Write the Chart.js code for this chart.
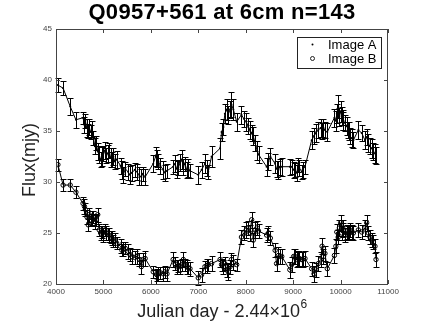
<!DOCTYPE html>
<html>
<head>
<meta charset="utf-8">
<script src="https://cdn.jsdelivr.net/npm/chart.js@4.4.0/dist/chart.umd.min.js"></script>
<style>
  html, body { margin: 0; padding: 0; background: #fff; }
  #wrap { width: 429px; height: 322px; }
</style>
</head>
<body>
<div id="wrap"><canvas id="myChart" width="429" height="322"></canvas></div>
<script>
// observation epochs (JD - 2440000), shared by both images
const days = [
  4040, 4150, 4300, 4420,
  4570, 4600, 4620, 4650, 4680, 4700, 4730, 4760, 4790, 4820, 4850, 4880,
  4910, 4940, 4970, 5000, 5030, 5060, 5090, 5120, 5150, 5180, 5210, 5240, 5280,
  5360, 5390, 5420, 5460, 5520, 5560, 5600, 5660, 5710, 5760, 5800, 5830, 5880,
  6050, 6100, 6130, 6160, 6200, 6260, 6300, 6340,
  6470, 6510, 6545, 6580, 6615, 6650, 6685, 6720, 6755, 6790, 6825,
  7000, 7070, 7140, 7180, 7210, 7280,
  7460, 7490, 7530, 7560, 7600, 7630, 7670, 7700, 7740, 7810,
  7910, 7960, 8010, 8050, 8090, 8125, 8160, 8200, 8240, 8270,
  8440, 8480, 8520, 8620, 8650, 8690, 8720, 8760,
  8930, 8970, 9010, 9040, 9075, 9110, 9130, 9180, 9200, 9250,
  9390, 9440, 9480, 9530, 9580, 9610, 9640, 9670, 9720,
  9870, 9900, 9920, 9950, 9975, 10000, 10025, 10045, 10060, 10090, 10130, 10160, 10185, 10200, 10235, 10270,
  10375, 10445, 10515, 10550, 10585, 10620, 10655, 10690, 10726, 10747
];

const fluxA = [
  39.5, 39.2, 37.4, 36.1,
  36.3, 35.6, 36.0, 35.3, 35.0, 35.4, 34.9, 35.2, 34.3, 33.5, 33.8, 33.0,
  32.7, 32.2, 32.5, 32.8, 33.1, 32.6, 32.8, 33.1, 32.4, 32.2, 32.5, 32.0, 32.2,
  31.6, 31.2, 30.7, 31.3, 31.0, 30.7, 30.9, 31.2, 31.0, 30.6, 30.5, 30.8, 30.5,
  31.8, 32.5, 32.3, 32.0, 31.6, 31.2, 30.9, 31.1,
  31.5, 31.8, 31.3, 31.4, 31.9, 32.2, 31.5, 31.8, 31.2, 31.4, 31.1,
  30.7, 31.2, 31.8, 31.4, 31.0, 32.5,
  33.3, 34.9, 35.4, 36.7, 37.1, 36.6, 37.1, 37.6, 37.1, 35.9,
  36.6, 36.2, 35.9, 35.5, 35.1, 34.8, 34.5, 33.8, 33.1, 32.7,
  31.5, 32.0, 32.5, 31.8, 31.3, 31.2, 31.5, 31.5,
  31.5, 31.5, 31.2, 31.2, 30.9, 31.7, 31.4, 31.0, 31.2, 31.5,
  34.1, 34.5, 34.8, 35.1, 35.3, 35.0, 35.3, 35.1, 34.9,
  36.3, 36.0, 36.7, 37.4, 36.4, 36.9, 36.5, 36.1, 36.0, 35.8, 35.5, 35.1, 35.0, 34.5, 34.3, 34.1,
  35.1, 34.8, 34.1, 34.4, 33.8, 33.5, 33.3, 33.0, 32.8, 32.6
];

const errA = [
  0.7, 0.7, 0.8, 0.8,
  0.6, 0.8, 0.7, 0.9, 0.7, 0.8, 0.7, 0.8, 0.7, 0.8, 0.7, 0.8,
  0.8, 0.7, 0.9, 0.7, 0.8, 0.7, 0.8, 0.7, 0.9, 0.7, 0.8, 0.7, 0.8,
  0.8, 0.9, 0.8, 0.7, 0.8, 0.9, 0.8, 0.7, 0.8, 0.9, 0.8, 0.7, 0.8,
  0.8, 0.9, 0.8, 0.7, 0.8, 0.9, 0.8, 0.7,
  0.7, 0.8, 0.9, 0.7, 0.8, 0.9, 0.8, 0.7, 0.8, 0.9, 0.7,
  0.9, 0.8, 0.9, 0.8, 0.7, 1.0,
  1.0, 0.9, 0.8, 0.9, 1.0, 0.9, 0.8, 1.2, 1.0, 0.9,
  0.9, 0.8, 0.9, 0.8, 0.9, 0.8, 0.9, 0.8, 0.9, 0.8,
  0.9, 0.8, 0.8, 0.9, 0.8, 0.9, 0.8, 0.9,
  0.8, 0.7, 0.8, 0.7, 0.8, 0.7, 0.8, 0.7, 0.8, 0.7,
  0.9, 0.8, 0.9, 0.8, 0.9, 0.8, 0.9, 0.8, 0.9,
  0.9, 1.0, 0.9, 1.1, 0.9, 1.0, 0.9, 1.0, 0.9, 0.8, 0.9, 0.8, 0.9, 0.8, 0.9, 0.8,
  0.9, 0.8, 0.9, 0.8, 0.9, 0.8, 0.9, 0.8, 0.9, 0.8
];

const fluxB = [
  31.7, 29.7, 29.7, 29.0,
  27.9, 27.6, 27.3, 26.6, 25.8, 26.8, 26.3, 26.5, 26.6, 26.1, 26.3, 26.8,
  25.3, 25.0, 25.1, 24.8, 25.3, 25.0, 24.9, 24.8, 24.6, 24.5, 24.2, 24.3, 24.0,
  23.7, 23.3, 23.4, 23.5, 23.2, 22.9, 22.7, 22.6, 22.7, 22.4, 21.7, 22.4, 22.5,
  21.2, 20.7, 20.9, 21.0, 21.1, 21.0, 21.2, 21.0,
  22.4, 22.0, 21.7, 21.8, 21.7, 21.9, 22.4, 21.9, 21.7, 21.6, 21.5,
  20.6, 20.9, 21.7, 21.8, 21.9, 22.0,
  22.4, 21.9, 21.7, 22.0, 21.4, 21.2, 21.7, 22.4, 22.1, 21.9,
  24.6, 25.0, 25.3, 25.5, 25.0, 26.3, 24.3, 25.3, 25.5, 25.2,
  24.8, 25.0, 24.5, 23.3, 22.0, 22.8, 22.7, 22.7,
  21.4, 21.9, 22.7, 22.7, 22.4, 22.5, 22.5, 22.4, 22.4, 22.5,
  21.5, 21.0, 21.4, 22.0, 22.4, 23.7, 22.7, 23.0, 21.5,
  22.8, 23.7, 25.1, 24.6, 25.5, 26.0, 25.0, 25.5, 25.3, 24.8, 25.1, 25.0, 25.1, 25.3, 25.1, 25.0,
  25.3, 25.1, 25.5, 26.0, 25.0, 24.6, 24.3, 24.1, 23.7, 22.4
];

const errB = [
  0.6, 0.6, 0.6, 0.6,
  0.6, 0.7, 0.6, 0.7, 0.6, 0.7, 0.6, 0.7, 0.6, 0.7, 0.6, 0.7,
  0.6, 0.7, 0.6, 0.7, 0.6, 0.7, 0.6, 0.7, 0.6, 0.7, 0.6, 0.7, 0.6,
  0.7, 0.6, 0.7, 0.6, 0.7, 0.6, 0.7, 0.6, 0.7, 0.6, 0.7, 0.6, 0.7,
  0.6, 0.7, 0.6, 0.7, 0.6, 0.7, 0.6, 0.7,
  0.7, 0.6, 0.7, 0.6, 0.7, 0.6, 0.7, 0.6, 0.7, 0.6, 0.7,
  0.7, 0.7, 0.6, 0.7, 0.6, 0.7,
  0.7, 0.6, 0.7, 0.6, 0.7, 0.8, 0.7, 0.6, 0.7, 0.6,
  0.7, 0.7, 0.8, 0.7, 0.8, 0.8, 0.7, 0.8, 0.7, 0.7,
  0.7, 0.7, 0.7, 0.7, 0.7, 0.8, 0.7, 0.7,
  0.8, 0.7, 0.7, 0.7, 0.7, 0.7, 0.7, 0.7, 0.7, 0.7,
  0.7, 0.8, 0.7, 0.7, 0.7, 0.8, 0.7, 0.7, 0.7,
  0.7, 0.7, 0.8, 0.7, 0.8, 0.8, 0.7, 0.8, 0.7, 0.7, 0.7, 0.7, 0.7, 0.7, 0.7, 0.7,
  0.7, 0.7, 0.8, 0.8, 0.7, 0.7, 0.7, 0.7, 0.7, 0.7
];

const xTickValues = [4000, 5000, 6000, 7000, 8000, 9000, 10000, 11000];
const yTickValues = [20, 25, 30, 35, 40, 45];

const FONT = "'Liberation Sans', Arial, Helvetica, sans-serif";

// vertical error bars with caps, placed through the chart's own y scale
const errorBars = {
  id: 'errorBars',
  afterDatasetsDraw(chart) {
    const ctx = chart.ctx;
    const ys = chart.scales.y;
    ctx.save();
    ctx.strokeStyle = '#000';
    ctx.lineWidth = 1;
    chart.data.datasets.forEach((ds, i) => {
      const meta = chart.getDatasetMeta(i);
      meta.data.forEach((pt, j) => {
        const v = ds.data[j].y;
        const e = ds.errors[j];
        const x = Math.round(pt.x) + 0.5;
        const y1 = Math.round(ys.getPixelForValue(v + e)) + 0.5;
        const y2 = Math.round(ys.getPixelForValue(v - e)) + 0.5;
        ctx.beginPath();
        ctx.moveTo(x, y1); ctx.lineTo(x, y2);
        ctx.moveTo(x - 3, y1); ctx.lineTo(x + 3, y1);
        ctx.moveTo(x - 3, y2); ctx.lineTo(x + 3, y2);
        ctx.stroke();
      });
    });
    ctx.restore();
  }
};

// frame, inward ticks, titles and the boxed legend
const decorations = {
  id: 'decorations',
  afterDraw(chart) {
    const ctx = chart.ctx;
    const a = chart.chartArea;
    const xs = chart.scales.x, ys = chart.scales.y;
    ctx.save();
    ctx.strokeStyle = '#444';
    ctx.lineWidth = 1;
    ctx.strokeRect(Math.round(a.left) + 0.5, Math.round(a.top) + 0.5,
                   Math.round(a.right - a.left) - 1, Math.round(a.bottom - a.top));
    ctx.beginPath();
    xTickValues.forEach(v => {
      const x = Math.round(xs.getPixelForValue(v)) + 0.5;
      ctx.moveTo(x, a.bottom); ctx.lineTo(x, a.bottom - 4);
      ctx.moveTo(x, a.top); ctx.lineTo(x, a.top + 4);
    });
    yTickValues.forEach(v => {
      const y = Math.round(ys.getPixelForValue(v)) + 0.5;
      ctx.moveTo(a.left, y); ctx.lineTo(a.left + 4, y);
      ctx.moveTo(a.right, y); ctx.lineTo(a.right - 4, y);
    });
    ctx.stroke();

    ctx.fillStyle = '#000';
    ctx.textAlign = 'center';
    ctx.textBaseline = 'alphabetic';
    ctx.font = 'bold 22px ' + FONT;
    ctx.letterSpacing = '0.3px';
    ctx.fillText('Q0957+561 at 6cm n=143', 222, 18.5);
    ctx.letterSpacing = '0px';

    // x title with superscript exponent
    const main = 'Julian day - 2.44\u00d710';
    ctx.font = '18px ' + FONT;
    const wMain = ctx.measureText(main).width;
    ctx.font = '12px ' + FONT;
    const wSup = ctx.measureText('6').width;
    const x0 = 222 - (wMain + wSup) / 2;
    ctx.textAlign = 'left';
    ctx.font = '18px ' + FONT;
    ctx.fillStyle = '#222';
    ctx.fillText(main, x0, 316.5);
    ctx.font = '12px ' + FONT;
    ctx.fillText('6', x0 + wMain + 0.5, 308);

    ctx.save();
    ctx.translate(35, 160);
    ctx.rotate(-Math.PI / 2);
    ctx.textAlign = 'center';
    ctx.font = '18px ' + FONT;
    ctx.fillText('Flux(mjy)', 0, 0);
    ctx.restore();

    // legend box
    ctx.fillStyle = '#fff';
    ctx.fillRect(297, 37, 84, 31);
    ctx.strokeStyle = '#222';
    ctx.strokeRect(297.5, 37.5, 84, 31);
    ctx.fillStyle = '#000';
    ctx.font = '13px ' + FONT;
    ctx.textAlign = 'left';
    ctx.fillText('Image A', 328, 48.5);
    ctx.fillText('Image B', 328, 62.5);
    ctx.beginPath();
    ctx.arc(312.5, 44.5, 1, 0, Math.PI * 2);
    ctx.fill();
    ctx.beginPath();
    ctx.arc(312.5, 58.5, 2, 0, Math.PI * 2);
    ctx.lineWidth = 1;
    ctx.stroke();
    ctx.restore();
  }
};

new Chart(document.getElementById('myChart').getContext('2d'), {
  type: 'line',
  data: {
    datasets: [
      {
        label: 'Image A',
        data: days.map((d, i) => ({ x: d, y: fluxA[i] })),
        errors: errA,
        borderColor: '#000',
        borderWidth: 1,
        tension: 0,
        pointRadius: 1,
        pointBackgroundColor: '#000',
        pointBorderColor: '#000',
        pointBorderWidth: 0
      },
      {
        label: 'Image B',
        data: days.map((d, i) => ({ x: d, y: fluxB[i] })),
        errors: errB,
        borderColor: '#000',
        borderWidth: 1,
        tension: 0,
        pointRadius: 2.2,
        pointBackgroundColor: 'rgba(255,255,255,0)',
        pointBorderColor: '#000',
        pointBorderWidth: 1
      }
    ]
  },
  options: {
    responsive: false,
    animation: false,
    devicePixelRatio: 1,
    layout: { padding: { left: 0, top: 29, right: 41, bottom: 0 } },
    plugins: {
      legend: { display: false },
      title: { display: false },
      tooltip: { enabled: false }
    },
    scales: {
      x: {
        type: 'linear',
        min: 4000,
        max: 11000,
        grid: { display: false, drawTicks: false },
        border: { display: false },
        afterFit: s => { s.height = 38; },
        afterBuildTicks: s => { s.ticks = xTickValues.map(v => ({ value: v })); },
        ticks: {
          padding: 3,
          maxRotation: 0,
          color: '#444',
          font: { family: FONT, size: 8 },
          callback: v => String(v)
        }
      },
      y: {
        min: 20,
        max: 45,
        grid: { display: false, drawTicks: false },
        border: { display: false },
        afterFit: s => { s.width = 56; },
        afterBuildTicks: s => { s.ticks = yTickValues.map(v => ({ value: v })); },
        ticks: {
          padding: 4,
          color: '#444',
          font: { family: FONT, size: 8 },
          callback: v => String(v)
        }
      }
    }
  },
  plugins: [errorBars, decorations]
});
</script>
</body>
</html>
